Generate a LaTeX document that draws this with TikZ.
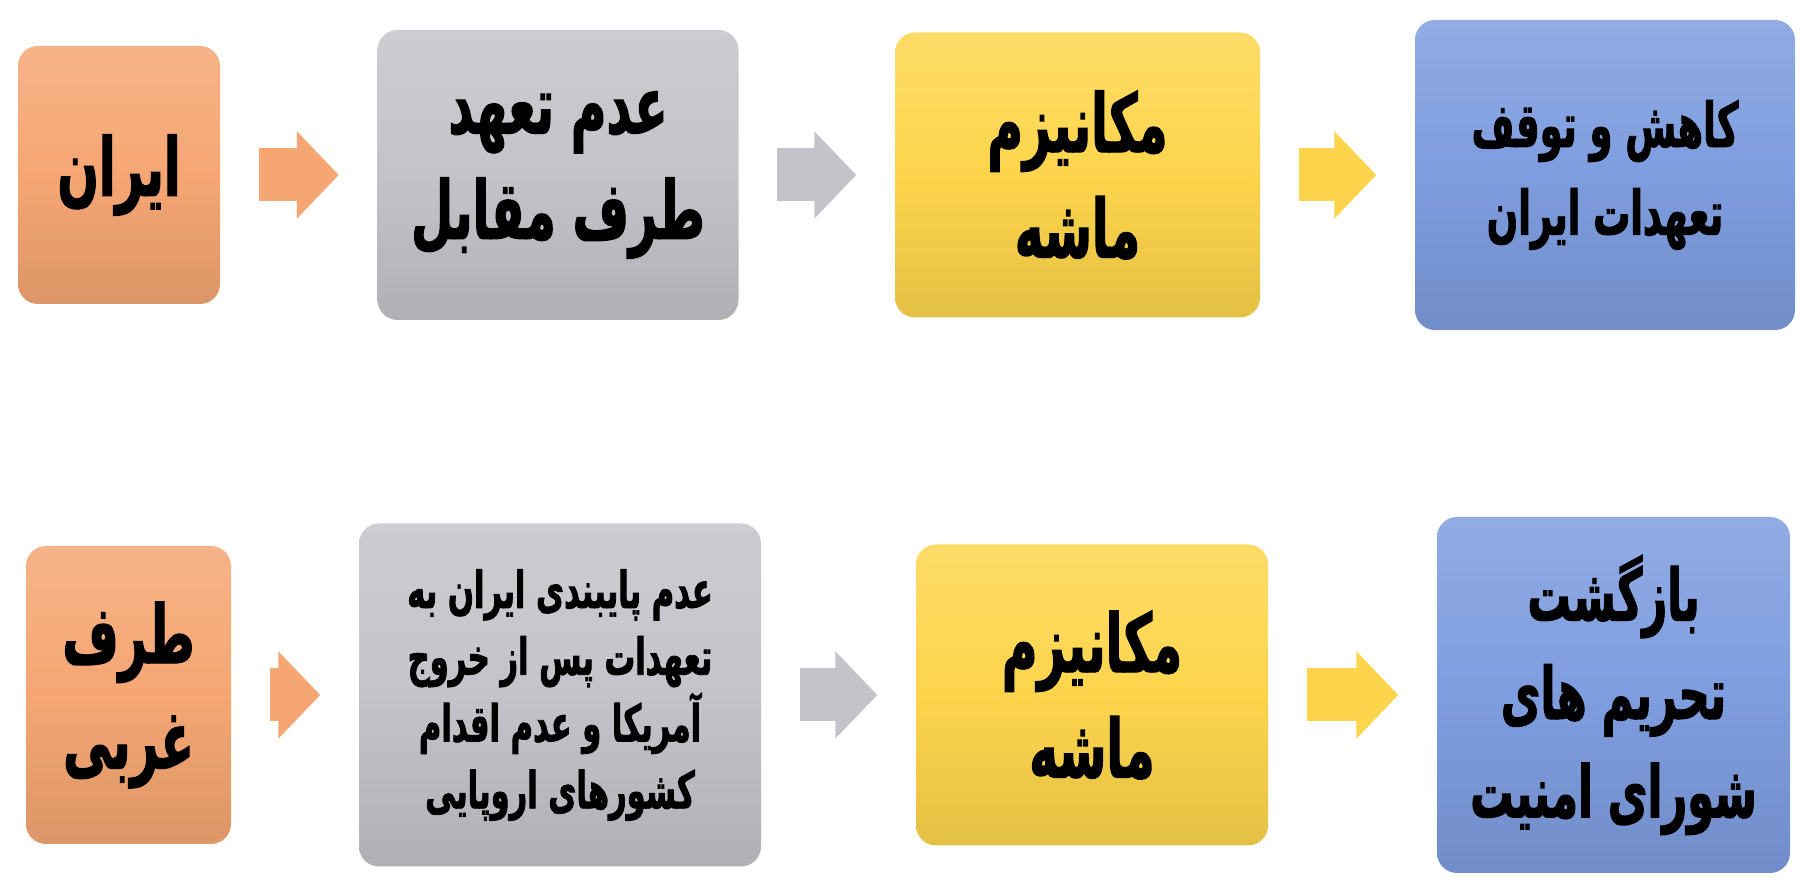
\documentclass[tikz,border=0pt]{standalone}
\usepackage{fontspec}
\usepackage{xcolor}
\usepackage{tikz}
\usetikzlibrary{arrows.meta}
\newfontfamily\farsi[Script=Arabic, FakeStretch=0.6, BoldFeatures={FakeBold=1.5}]{DejaVu Sans}
\TeXXeTstate=1

\definecolor{boxorange}{HTML}{F5A673}
\definecolor{boxgray}{HTML}{C4C3C9}
\definecolor{boxyellow}{HTML}{FDD54C}
\definecolor{boxblue}{HTML}{7E9DDF}

\begin{document}
\begin{tikzpicture}[
        box/.style={rounded corners=0.2cm, inner sep=0pt, align=center, top color=#1!85!white, bottom color=#1!90!black, middle color=#1, font=\farsi\bfseries\fontsize{23}{30}\selectfont},
        link/.style={draw=#1, line width=0.53cm, shorten <=0.38cm, shorten >=0.38cm, -{Triangle[width=0.85cm, length=0.42cm]}},
        small/.style={font=\farsi\bfseries\fontsize{14.5}{19}\selectfont},
        mid/.style={font=\farsi\bfseries\fontsize{17.5}{25}\selectfont},
        tall/.style={font=\farsi\bfseries\fontsize{20.5}{28}\selectfont}
    ]
        \useasboundingbox (0,0) rectangle (18.10,8.87);

        % Nodes
        \node[box=boxorange, minimum width=2.02cm, minimum height=2.58cm] (iran) at (1.19, 7.12) {\beginR ایران\endR};
        \node[box=boxgray, minimum width=3.61cm, minimum height=2.90cm] (adam) at (5.58, 7.12) {\beginR عدم تعهد\endR \\ \beginR طرف مقابل\endR};
        \node[box=boxyellow, minimum width=3.65cm, minimum height=2.85cm] (mashe) at (10.775, 7.12) {\beginR مکانیزم\endR \\ \beginR ماشه\endR};
        \node[box=boxblue, mid, minimum width=3.80cm, minimum height=3.10cm] (kahesh) at (16.05, 7.12) {\beginR کاهش و توقف\endR \\ \beginR تعهدات ایران\endR};

        % Edges
        \draw[link=boxorange] (iran) -- (adam);
        \draw[link=boxgray] (adam) -- (mashe);
        \draw[link=boxyellow] (mashe) -- (kahesh);

        % Second row
        \node[box=boxorange, minimum width=2.05cm, minimum height=2.98cm] (gharb) at (1.285, 1.92) {\beginR طرف\endR \\ \beginR غربی\endR};
        \node[box=boxgray, small, minimum width=4.02cm, minimum height=3.43cm] (paybandi) at (5.60, 1.92) {\beginR عدم پایبندی ایران به\endR \\ \beginR تعهدات پس از خروج\endR \\ \beginR آمریکا و عدم اقدام\endR \\ \beginR کشورهای اروپایی\endR};
        \node[box=boxyellow, minimum width=3.52cm, minimum height=3.01cm] (mashe_new) at (10.92, 1.92) {\beginR مکانیزم\endR \\ \beginR ماشه\endR};
        \node[box=boxblue, tall, minimum width=3.53cm, minimum height=3.56cm] (bazgasht) at (16.135, 1.92) {\beginR بازگشت\endR \\ \beginR تحریم های\endR \\ \beginR شورای امنیت\endR};

        % Edges
        \draw[link=boxorange] (gharb) -- (paybandi);
        \draw[link=boxgray] (paybandi) -- (mashe_new);
        \draw[link=boxyellow] (mashe_new) -- (bazgasht);

    \end{tikzpicture}
\end{document}
